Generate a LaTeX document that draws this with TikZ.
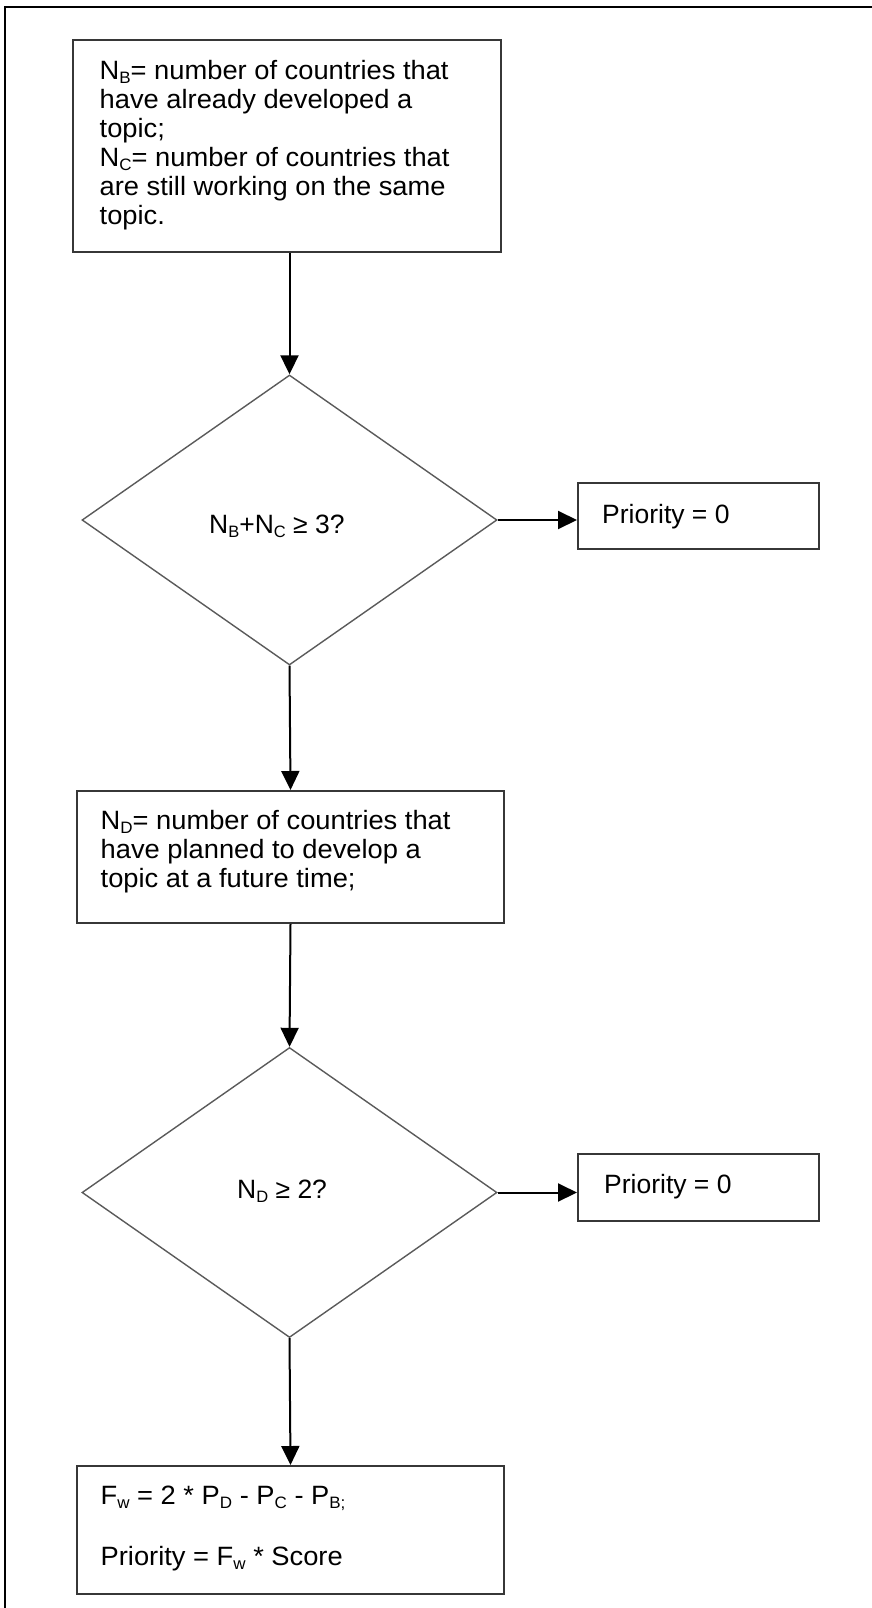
\documentclass[tikz,border=0pt]{standalone}
\usepackage{fontspec}
\setmainfont{Liberation Sans}
\newfontfamily\widefont[FakeStretch=1.03]{Liberation Sans}
\usetikzlibrary{shapes.geometric,arrows.meta,calc}
\definecolor{boxgray}{RGB}{55,55,55}
\definecolor{diagray}{RGB}{90,90,90}
\newcommand\sbs[1]{\raisebox{-4pt}{\fontsize{16.5pt}{16.5pt}\selectfont #1}}
\begin{document}
\begin{tikzpicture}[x=1pt,y=-1pt,
  box/.style={draw=boxgray, line width=2pt, inner sep=0pt, anchor=north west},
  dia/.style={draw=diagray, line width=1.4pt, diamond, inner sep=0pt, minimum width=415pt, minimum height=290pt},
  txt/.style={inner sep=0pt, align=left, font=\fontsize{26.5pt}{29pt}\selectfont},
  wtxt/.style={txt, font=\widefont\fontsize{26.5pt}{29pt}\selectfont},
  arr/.style={line width=2pt, black, -{Triangle[length=19pt,width=18pt]}}
]
\useasboundingbox (0,0) rectangle (872,1608);
\draw[line width=2.5pt] (5,1608) -- (5,6.8) -- (872,6.8);

% boxes
\node[box, minimum width=428pt, minimum height=212pt] (b1) at (72,39) {};
\node[dia] (d1) at (289.5,520) {};
\node[box, minimum width=241pt, minimum height=66pt] (p1) at (577,482) {};
\node[box, minimum width=427pt, minimum height=132pt] (b2) at (76,790) {};
\node[dia] (d2) at (289.5,1192.5) {};
\node[box, minimum width=241pt, minimum height=67pt] (p2) at (577,1153) {};
\node[box, minimum width=427pt, minimum height=128pt] (b3) at (76,1465) {};

% texts
\node[wtxt, anchor=north west] (t1) at (99.5,60.5) {N\sbs{B}= number of countries that\\have already developed a\\topic;\\N\sbs{C}= number of countries that\\are still working on the same\\topic.};
\node[txt, anchor=base west] (td1) at (209,533) {N\sbs{B}+N\sbs{C} ≥ 3?};
\node[txt, anchor=base west] (tp1) at (602,523) {Priority = 0};
\node[wtxt, anchor=north west] (t2) at (100.5,810.5) {N\sbs{D}= number of countries that\\have planned to develop a\\topic at a future time;};
\node[txt, anchor=base west] (td2) at (237,1198) {N\sbs{D} ≥ 2?};
\node[txt, anchor=base west] (tp2) at (604,1193) {Priority = 0};
\node[wtxt, anchor=north west] (t3) at (100.5,1485.5) {F\sbs{w} = 2 * P\sbs{D} - P\sbs{C} - P\sbs{B;}\\[32pt]Priority = F\sbs{w} * Score};

% connectors
\draw[arr] (b1.south -| d1.north) -- (d1.north);
\draw[arr] (d1.east) -- (p1.west |- d1.east);
\draw[arr] (d1.south) -- (b2.north);
\draw[arr] (b2.south) -- (d2.north);
\draw[arr] (d2.east) -- (p2.west |- d2.east);
\draw[arr] (d2.south) -- (b3.north);
\end{tikzpicture}
\end{document}
